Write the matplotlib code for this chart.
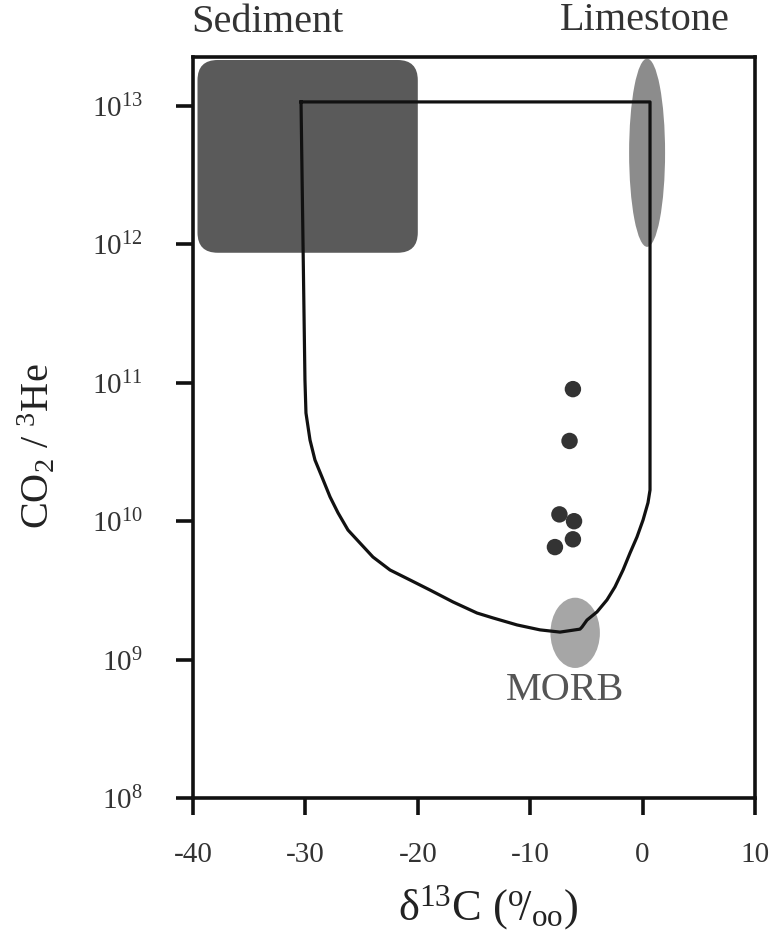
import numpy as np
import matplotlib
matplotlib.use("Agg")
import matplotlib.pyplot as plt
from matplotlib.patches import Ellipse, FancyBboxPatch

plt.rcParams['font.family'] = ['Liberation Serif', 'DejaVu Serif']
plt.rcParams['mathtext.fontset'] = 'custom'
plt.rcParams['mathtext.rm'] = 'Liberation Serif'
plt.rcParams['mathtext.it'] = 'Liberation Serif:italic'
plt.rcParams['mathtext.bf'] = 'Liberation Serif:bold'
plt.rcParams['axes.unicode_minus'] = False

# ---------------- data ----------------
# samples: d13C (permil) and CO2/3He
sample_d13c = [-6.2, -6.5, -7.4, -6.1, -6.2, -7.8]
sample_ratio = [9.0e10, 3.8e10, 1.12e10, 1.0e10, 7.4e9, 6.5e9]

# mixing envelope between MORB, Limestone and Sediment end-members
mix_d13c = [-30.39, 0.66, 0.66, 0.48, 0.04, -0.50, -1.12, -1.74, -2.46, -3.17,
            -4.06, -4.95, -5.39, -5.57, -7.35, -9.13, -11.17, -13.31, -14.73,
            -16.87, -18.91, -20.69, -22.47, -23.99, -25.14, -26.21, -27.10,
            -27.81, -28.52, -29.15, -29.59, -29.95, -30.04, -30.39]
mix_ratio = [1.07e13, 1.07e13, 1.68e10, 1.36e10, 1.02e10, 7.69e9, 5.89e9,
             4.44e9, 3.35e9, 2.70e9, 2.21e9, 1.93e9, 1.72e9, 1.66e9, 1.58e9,
             1.64e9, 1.78e9, 2.00e9, 2.17e9, 2.61e9, 3.18e9, 3.76e9, 4.44e9,
             5.51e9, 6.95e9, 8.63e9, 1.15e10, 1.50e10, 2.08e10, 2.77e10,
             3.86e10, 6.05e10, 1.05e11, 1.07e13]

# end-member fields: d13C range and CO2/3He range
sediment_d13c = (-39.6, -20.0)
sediment_ratio = (8.7e11, 2.15e13)
limestone_d13c = (-1.2, 2.0)
limestone_ratio = (9.6e11, 2.2e13)
morb_d13c = (-8.2, -3.8)
morb_ratio = (8.7e8, 2.8e9)

x_ticks = [-40, -30, -20, -10, 0, 10]
x_tick_labels = ["-40", "-30", "-20", "-10", "0", "10"]
y_ticks = [1e8, 1e9, 1e10, 1e11, 1e12, 1e13]
y_tick_labels = [r"$10^{8}$", r"$10^{9}$", r"$10^{10}$", r"$10^{11}$",
                 r"$10^{12}$", r"$10^{13}$"]

# ---------------- figure ----------------
W, H = 771, 943
fig = plt.figure(figsize=(W / 100, H / 100), dpi=100)
ax = fig.add_axes([193 / W, 1 - 798 / H, (755 - 193) / W, (798 - 57) / H])
ax.set_yscale('log')
ax.set_xlim(-40, 10)
ax.set_ylim(1e8, 10 ** 13.354)
ax.minorticks_off()

# transform taking (x, log10(y)) coordinates
tlog = ax.transLimits + ax.transAxes
aspect = (562 / 50) / 138.4  # decades per x-unit for equal pixels

def lg(v):
    return np.log10(v)

# Sediment rounded box
sx0, sx1 = sediment_d13c
sy0, sy1 = lg(sediment_ratio[0]), lg(sediment_ratio[1])
box = FancyBboxPatch((sx0, sy0), sx1 - sx0, sy1 - sy0,
                     boxstyle="round,pad=0,rounding_size=1.8",
                     mutation_aspect=aspect, transform=tlog,
                     facecolor='#5a5a5a', edgecolor='none', zorder=1)
ax.add_patch(box)

# Limestone ellipse
lx = np.mean(limestone_d13c)
ly0, ly1 = lg(limestone_ratio[0]), lg(limestone_ratio[1])
ax.add_patch(Ellipse((lx, (ly0 + ly1) / 2), limestone_d13c[1] - limestone_d13c[0],
                     ly1 - ly0, transform=tlog, facecolor='#8c8c8c',
                     edgecolor='none', zorder=1))

# MORB ellipse
mx = np.mean(morb_d13c)
my0, my1 = lg(morb_ratio[0]), lg(morb_ratio[1])
ax.add_patch(Ellipse((mx, (my0 + my1) / 2), morb_d13c[1] - morb_d13c[0],
                     my1 - my0, transform=tlog, facecolor='#a6a6a6',
                     edgecolor='none', zorder=1))

# mixing envelope
ax.plot(mix_d13c, mix_ratio, color='#111111', lw=2.3, zorder=3,
        solid_joinstyle='round')

# samples
ax.scatter(sample_d13c, sample_ratio, s=140, color='#333333',
           edgecolors='none', zorder=4)

# labels inside
ax.text(-6.9, 10 ** 8.78, "MORB", fontsize=29, color='#555555',
        ha='center', va='center')
fig.text(267 / W, 1 - 23 / H, "Sediment", fontsize=29, color='#333333',
         ha='center', va='center')
fig.text(645 / W, 1 - 20 / H, "Limestone", fontsize=29, color='#333333',
         ha='center', va='center')

# axes styling
for s in ax.spines.values():
    s.set_linewidth(2.6)
    s.set_color('#111111')
ax.set_xticks(x_ticks)
ax.set_xticklabels(x_tick_labels)
ax.set_yticks(y_ticks)
ax.set_yticklabels(y_tick_labels)
ax.tick_params(axis='both', direction='out', length=12, width=2.6,
               color='#111111', labelsize=21, labelcolor='#333333')
ax.tick_params(axis='x', pad=20)
ax.tick_params(axis='y', pad=24)

fig.text(38 / W, 1 - 446 / H, r"CO$_2$ / $^3$He", rotation=90, fontsize=29,
         color='#222222', ha='center', va='center')
fig.text(488 / W, 1 - 908 / H, "δ$^{13}$C ($^{\\mathrm{o}}\\!/_{\\mathrm{oo}}$)",
         fontsize=32, color='#222222', ha='center', va='center')

fig.savefig("out.png", dpi=100)
